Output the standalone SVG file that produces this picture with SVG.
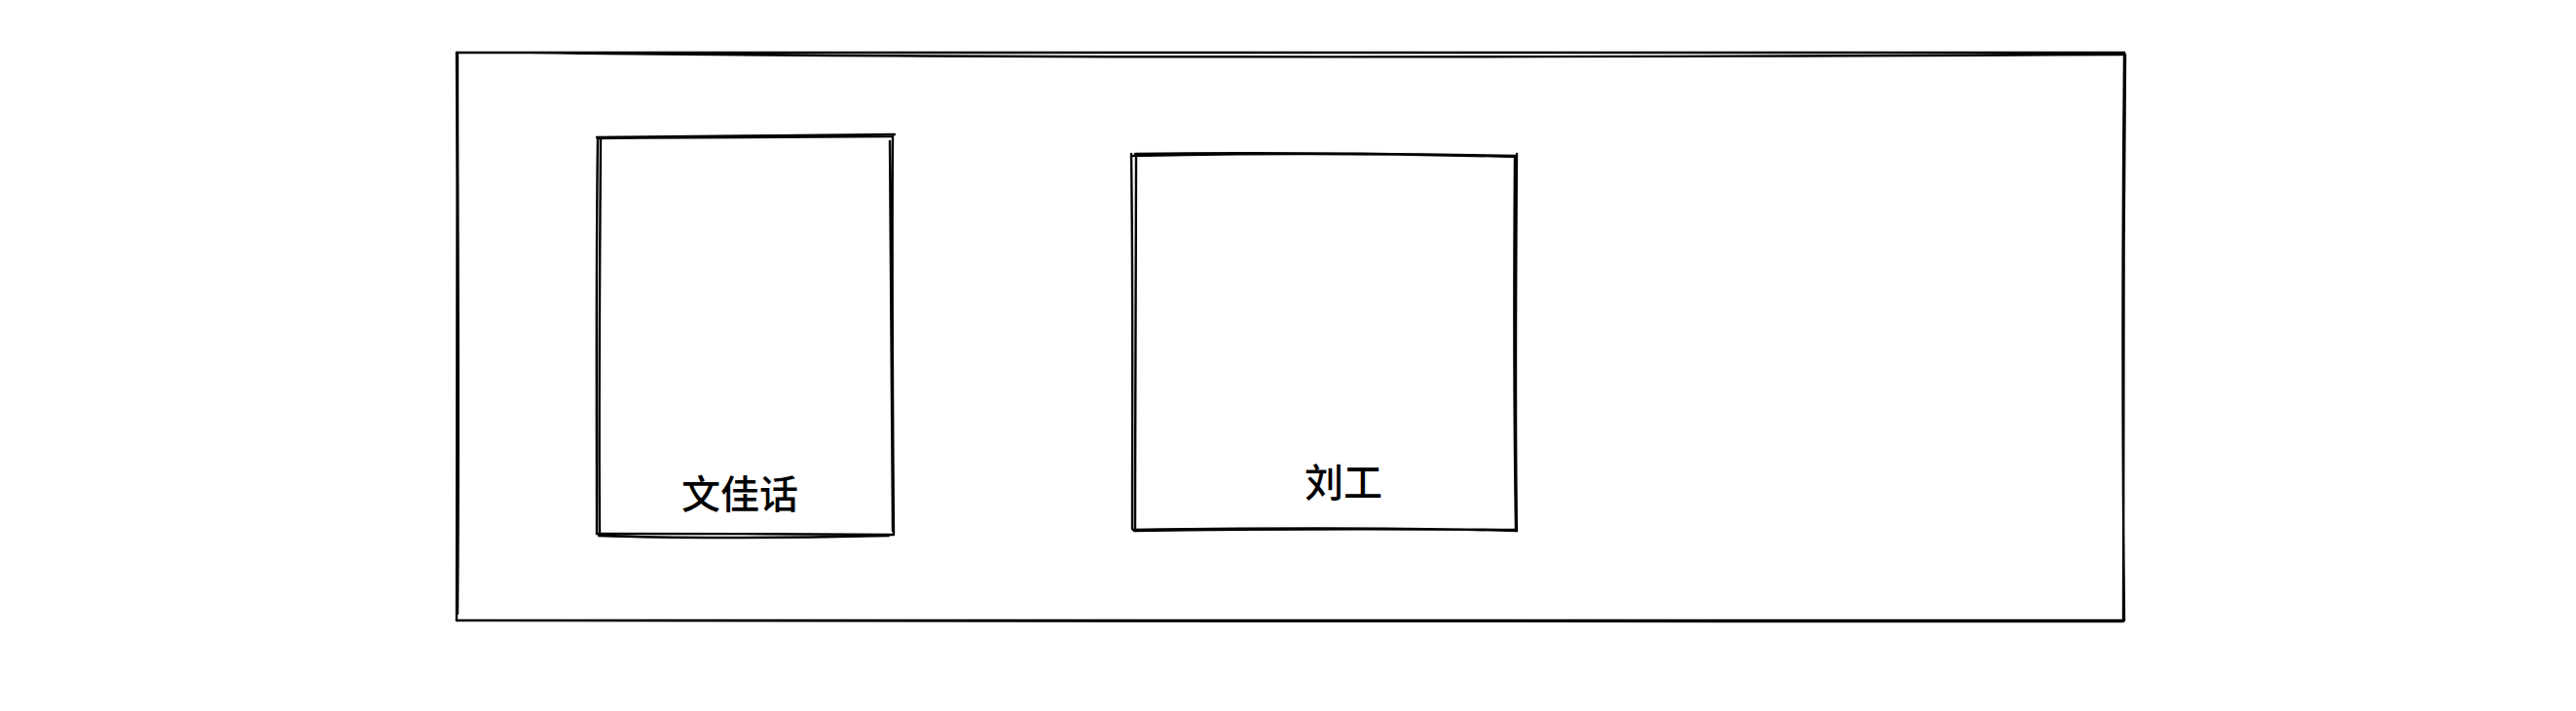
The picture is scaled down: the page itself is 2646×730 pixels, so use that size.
<svg xmlns="http://www.w3.org/2000/svg" width="2646" height="730" viewBox="0 0 2646 730">
<style>
.s{fill:none;stroke:#000000;stroke-width:2.4;stroke-linecap:round;stroke-linejoin:round}
.t{font-family:"Noto Sans CJK SC","Noto Sans",sans-serif;font-size:40px;font-weight:500;fill:#000000;text-anchor:middle}
</style>
<rect width="2646" height="730" fill="#ffffff"/>
<g id="outer">
<path class="s" d="M469 54 C900 54 1700 54 2182 54 M544 54 C1000 60 1600 59 2180 56"/>
<path class="s" d="M2182 54 C2180 250 2180 450 2182 637 M2183 56 C2181 250 2181 450 2181 638"/>
<path class="s" d="M2182 637 C1700 637 900 637 469 637 M2180 638 C1700 638 900 638 470 637"/>
<path class="s" d="M469 637 C470 450 470 250 469 54 M470 630 C472 420 470 240 470 56"/>
</g>
<g id="node-wenjiahua">
<path class="s" d="M613 141 C700 140 820 139 919 138 M614 142 C720 141 830 140 916 140"/>
<path class="s" d="M917 140 C916 280 917 420 918 549 M914 145 C916 300 917 430 917 545"/>
<path class="s" d="M917 549 C820 548 700 548 613 548 M913 550 C820 552 700 553 615 550"/>
<path class="s" d="M613 548 C613 420 612 280 614 141 M616 546 C615 420 616 280 617 142"/>
<text class="t" x="760" y="522">文佳话</text>
</g>
<g id="node-liugong">
<path class="s" d="M1164 160 C1300 157 1450 158 1557 161 M1166 158 C1300 156 1450 158 1556 160"/>
<path class="s" d="M1558 158 C1557 300 1556 420 1558 545 M1556 163 C1555 300 1555 420 1557 543"/>
<path class="s" d="M1558 545 C1450 542 1300 542 1164 544 M1556 544 C1450 543 1300 543 1165 545"/>
<path class="s" d="M1163 543 C1163 420 1164 300 1162 158 M1166 543 C1166 420 1167 300 1167 162"/>
<text class="t" x="1380" y="510">刘工</text>
</g>
<g id="connectors"/>
</svg>
